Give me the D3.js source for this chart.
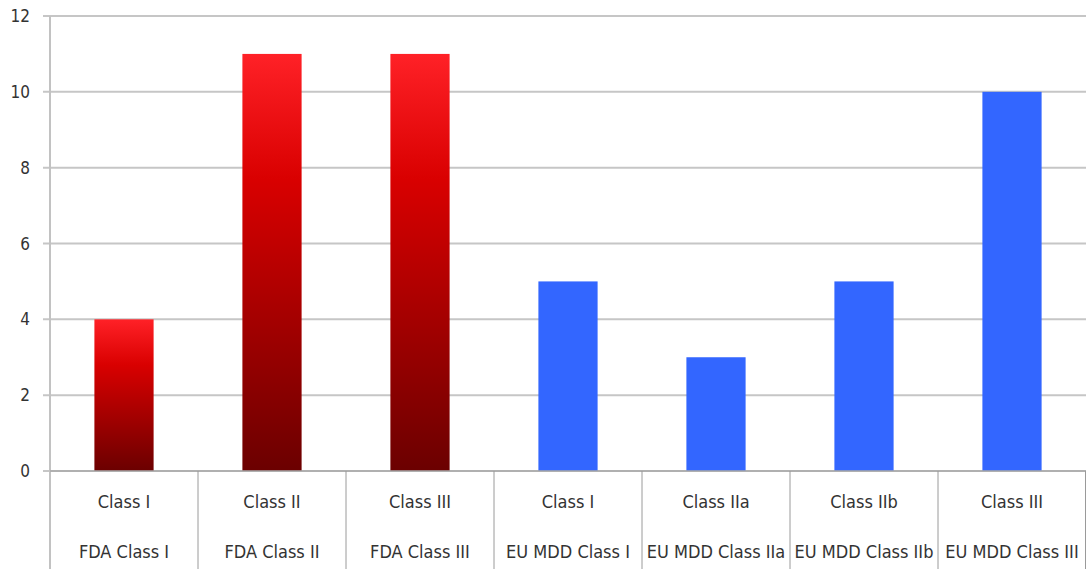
<!DOCTYPE html>
<html>
<head>
<meta charset="utf-8">
<script src="https://cdn.jsdelivr.net/npm/d3@7"></script>
<style>
  html, body { margin: 0; padding: 0; background: #fff; }
  svg { display: block; }
  text { font-family: "DejaVu Sans Condensed", "DejaVu Sans", sans-serif; font-stretch: condensed; fill: #333; }
</style>
</head>
<body>
<svg id="chart" width="1087" height="569"></svg>
<script>
// Device classes, one column each
const classLabels = ["Class I", "Class II", "Class III", "Class I", "Class IIa", "Class IIb", "Class III"];
const groupLabels = ["FDA Class I", "FDA Class II", "FDA Class III", "EU MDD Class I", "EU MDD Class IIa", "EU MDD Class IIb", "EU MDD Class III"];
const regions = ["FDA", "FDA", "FDA", "EU", "EU", "EU", "EU"];
const counts = [4, 11, 11, 5, 3, 5, 10];
const yTicks = [0, 2, 4, 6, 8, 10, 12];

(function () {
  const W = 1087, H = 569;
  const plotLeft = 50, plotRight = 1086, plotTop = 16, plotBase = 471;

  const svg = d3.select("#chart");

  const x = d3.scaleBand().domain(d3.range(counts.length)).range([plotLeft, plotRight]).padding(0);
  const y = d3.scaleLinear().domain([0, 12]).range([plotBase, plotTop]);
  const barFrac = 0.4;

  // gradient for FDA bars
  const defs = svg.append("defs");
  const grad = defs.append("linearGradient").attr("id", "redGrad")
    .attr("x1", 0).attr("y1", 0).attr("x2", 0).attr("y2", 1);
  grad.append("stop").attr("offset", "0%").attr("stop-color", "#ff2127");
  grad.append("stop").attr("offset", "30%").attr("stop-color", "#d90000");
  grad.append("stop").attr("offset", "100%").attr("stop-color", "#6b0000");

  // horizontal grid lines
  svg.append("g").selectAll("line").data(yTicks).join("line")
    .attr("x1", plotLeft - 7).attr("x2", plotRight)
    .attr("y1", d => y(d)).attr("y2", d => y(d))
    .attr("stroke", "#c6c6c6").attr("stroke-width", 2);

  // y tick labels
  svg.append("g").selectAll("text").data(yTicks).join("text")
    .attr("x", 30).attr("y", d => y(d)).attr("dy", "0.36em")
    .attr("text-anchor", "end").style("font-size", "17px")
    .text(d => d);

  // y axis line
  svg.append("line").attr("x1", plotLeft).attr("x2", plotLeft).attr("y1", plotTop).attr("y2", H)
    .attr("stroke", "#c2c2c2").attr("stroke-width", 2);

  // bars
  svg.append("g").selectAll("rect").data(counts).join("rect")
    .attr("x", (d, i) => x(i) + x.bandwidth() * (1 - barFrac) / 2)
    .attr("width", x.bandwidth() * barFrac)
    .attr("y", d => y(d))
    .attr("height", d => y(0) - y(d))
    .attr("fill", (d, i) => regions[i] === "FDA" ? "url(#redGrad)" : "#3366ff");

  // category table below the plot
  svg.append("line").attr("x1", plotLeft).attr("x2", plotRight).attr("y1", plotBase).attr("y2", plotBase)
    .attr("stroke", "#a8a8a8").attr("stroke-width", 1.5);
  svg.append("g").selectAll("line").data(d3.range(1, counts.length + 1)).join("line")
    .attr("x1", i => i === counts.length ? plotRight - 0.5 : x(i))
    .attr("x2", i => i === counts.length ? plotRight - 0.5 : x(i))
    .attr("y1", plotBase).attr("y2", H)
    .attr("stroke", "#9a9a9a").attr("stroke-width", 1);

  svg.append("g").selectAll("text").data(classLabels).join("text")
    .attr("x", (d, i) => x(i) + x.bandwidth() / 2).attr("y", 508)
    .attr("text-anchor", "middle").style("font-size", "18px")
    .text(d => d);

  svg.append("g").selectAll("text").data(groupLabels).join("text")
    .attr("x", (d, i) => x(i) + x.bandwidth() / 2).attr("y", 558)
    .attr("text-anchor", "middle").style("font-size", "18px")
    .text(d => d);
})();
</script>
</body>
</html>
